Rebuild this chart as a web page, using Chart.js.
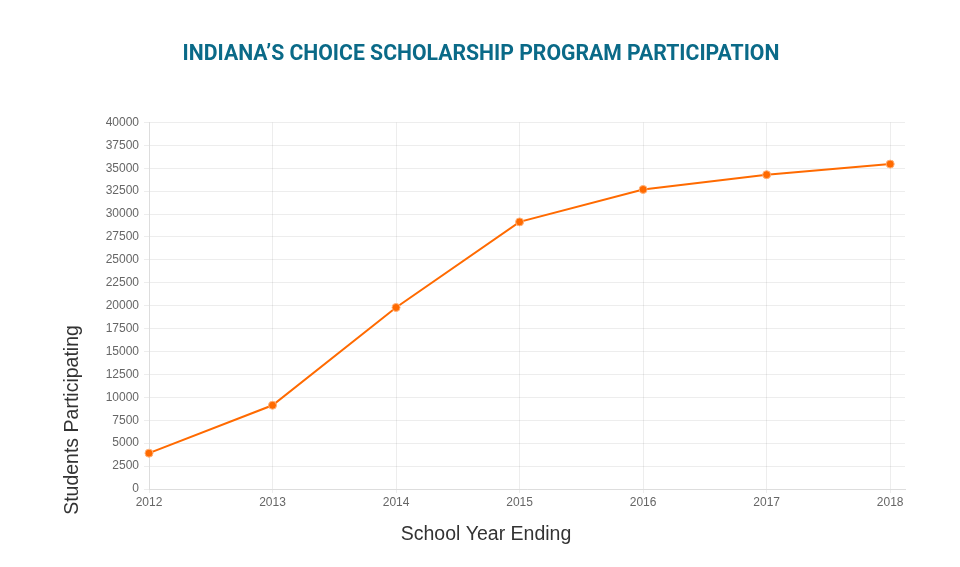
<!DOCTYPE html>
<html>
<head>
<meta charset="utf-8">
<script src="https://cdn.jsdelivr.net/npm/chart.js@4/dist/chart.umd.min.js"></script>
<style>
  html, body { margin: 0; padding: 0; background: #fff; }
  #wrap { width: 960px; height: 567px; }
</style>
</head>
<body>
<div id="wrap"><canvas id="chartLine"></canvas></div>
<script>
// Data
const years = [2012, 2013, 2014, 2015, 2016, 2017, 2018];
const students = [3911, 9139, 19809, 29148, 32686, 34299, 35458];
const yTicks = [0, 2500, 5000, 7500, 10000, 12500, 15000, 17500, 20000, 22500, 25000, 27500, 30000, 32500, 35000, 37500, 40000];
const xTitle = 'School Year Ending';
const yTitle = 'Students Participating';

const orange = '#ff6a00';
const gridColor = 'rgba(0,0,0,0.07)';
const axisFont = '19.5px "Liberation Sans", Arial, sans-serif';

// axis titles sit off-centre in the original, so draw them where they were
const axisTitles = {
    id: 'axisTitles',
    afterDraw(chart) {
        const c = chart.ctx;
        c.save();
        c.fillStyle = '#333';
        c.font = axisFont;
        c.textAlign = 'center';
        c.textBaseline = 'middle';
        c.fillText(xTitle, 486, 535);
        c.translate(73, 420);
        c.rotate(-Math.PI / 2);
        c.fillText(yTitle, 0, 0);
        c.restore();
    }
};

const ctx = document.getElementById('chartLine').getContext('2d');
new Chart(ctx, {
    type: 'line',
    data: {
        datasets: [{
            label: yTitle,
            data: years.map((y, i) => ({ x: y, y: students[i] })),
            borderColor: orange,
            backgroundColor: orange,
            borderWidth: 2,
            pointRadius: 4,
            pointBorderWidth: 1,
            pointBorderColor: '#ffb27a',
            pointBackgroundColor: orange,
            tension: 0,
            fill: false,
            clip: false
        }]
    },
    options: {
        responsive: true,
        maintainAspectRatio: false,
        animation: false,
        layout: { padding: { left: 57, right: 55, top: 0, bottom: 17 } },
        plugins: {
            legend: { display: false },
            tooltip: { enabled: false },
            title: {
                display: true,
                text: 'INDIANA’S CHOICE SCHOLARSHIP PROGRAM PARTICIPATION',
                color: '#0a6a88',
                font: { family: 'Roboto, sans-serif', size: 21.2, weight: 'bold' },
                padding: { top: 42, bottom: 55 }
            }
        },
        scales: {
            x: {
                type: 'linear',
                min: years[0],
                max: 2018.12,
                afterFit: s => { s.height = 61; },
                grid: { color: gridColor, tickLength: 4 },
                border: { color: '#ddd' },
                ticks: {
                    stepSize: 1,
                    includeBounds: false,
                    color: '#666',
                    padding: 2,
                    font: { family: '"Liberation Sans", Arial, sans-serif', size: 12 },
                    callback: v => String(v)
                }
            },
            y: {
                min: yTicks[0],
                max: yTicks[yTicks.length - 1],
                afterFit: s => { s.width = 92; },
                afterBuildTicks: s => { s.ticks = yTicks.map(v => ({ value: v })); },
                grid: { color: gridColor, tickLength: 5 },
                border: { color: '#ddd' },
                ticks: {
                    color: '#666',
                    padding: 5,
                    font: { family: '"Liberation Sans", Arial, sans-serif', size: 12 },
                    callback: v => String(v)
                }
            }
        }
    },
    plugins: [axisTitles]
});
</script>
</body>
</html>
